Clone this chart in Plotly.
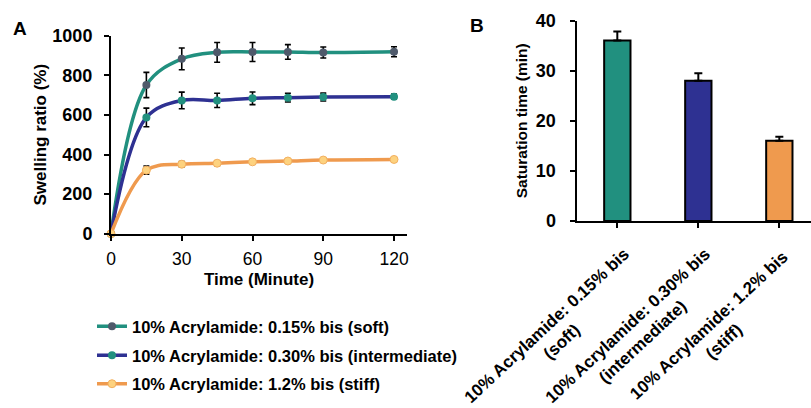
import plotly.graph_objects as go

# ---------------- data ----------------
time_min = [0, 15, 30, 45, 60, 75, 90, 120]

soft_vals = [0, 751, 883, 916, 918, 918, 915, 919]
soft_err = [0, 64, 55, 50, 48, 37, 28, 25]

inter_vals = [0, 587, 673, 673, 684, 687, 690, 692]
inter_err = [0, 47, 42, 36, 32, 22, 20, 13]

stiff_vals = [0, 321, 351, 356, 363, 367, 372, 375]
stiff_err = [0, 21, 14, 12, 10, 8, 6, 5]

series_names = [
    "10% Acrylamide: 0.15% bis (soft)",
    "10% Acrylamide: 0.30% bis (intermediate)",
    "10% Acrylamide: 1.2% bis (stiff)",
]

bar_labels = [
    "10% Acrylamide: 0.15% bis<br>(soft)",
    "10% Acrylamide: 0.30% bis<br>(intermediate)",
    "10% Acrylamide: 1.2% bis<br>(stiff)",
]
sat_time = [36, 28, 16]
sat_err = [1.8, 1.5, 0.8]

x_ticks = [0, 30, 60, 90, 120]
y_ticks_a = [0, 200, 400, 600, 800, 1000]
y_ticks_b = [0, 10, 20, 30, 40]

# ---------------- styles ----------------
TEAL = "#21907f"
NAVY = "#2e3192"
ORANGE = "#ef9a4e"
SLATE = "#4f5a6b"
LIGHT = "#fdd27f"
FONT = "Liberation Sans, Arial, sans-serif"

W, H = 811, 408

fig = go.Figure()

line_specs = [
    (soft_vals, soft_err, TEAL, dict(color=SLATE, size=8), "legend"),
    (inter_vals, inter_err, NAVY, dict(color=TEAL, size=8), "legend2"),
    (stiff_vals, stiff_err, ORANGE, dict(color=LIGHT, size=8, line=dict(color="#f3b060", width=1)), "legend3"),
]
for (vals, err, col, mk, lg), name in zip(line_specs, series_names):
    fig.add_trace(go.Scatter(
        x=time_min, y=vals, name=name,
        mode="lines+markers",
        line=dict(color=col, width=3.5, shape="spline", smoothing=1),
        marker=mk,
        error_y=dict(type="data", array=err, color="black", thickness=1.6, width=3),
        cliponaxis=False,
        xaxis="x", yaxis="y",
        legend=lg,
    ))

fig.add_trace(go.Bar(
    x=[0, 1, 2], y=sat_time,
    marker=dict(color=[TEAL, NAVY, ORANGE], line=dict(color="black", width=2)),
    width=0.325,
    error_y=dict(type="data", array=sat_err, arrayminus=[0, 0, 0], symmetric=False,
                 color="black", thickness=2, width=4),
    showlegend=False,
    xaxis="x2", yaxis="y2",
))

axis_common = dict(showline=True, linecolor="black", linewidth=2, ticks="outside",
                   tickcolor="black", tickwidth=2, ticklen=5, showgrid=False,
                   zeroline=False, automargin=False)

# category label annotations (centered multi-line, rotated)
annotations = []
for i, lab in enumerate(bar_labels):
    annotations.append(dict(
        x=i, xref="x2", y=(H - 333) / H, yref="paper",
        xshift=-63, text=lab, textangle=-43, showarrow=False,
        xanchor="center", yanchor="middle", align="center",
        font=dict(family=FONT, size=17, color="black", weight="bold"),
    ))
annotations.append(dict(x=20 / W, y=(H - 29) / H, xref="paper", yref="paper",
                        text="A", showarrow=False, xanchor="center", yanchor="middle",
                        font=dict(family=FONT, size=19, color="black", weight="bold")))
annotations.append(dict(x=477 / W, y=(H - 25) / H, xref="paper", yref="paper",
                        text="B", showarrow=False, xanchor="center", yanchor="middle",
                        font=dict(family=FONT, size=19, color="black", weight="bold")))

legend_common = dict(font=dict(family=FONT, size=16.5, color="black", weight="bold"),
                     bgcolor="rgba(0,0,0,0)", xanchor="left", yanchor="middle",
                     x=92 / W, borderwidth=0)

fig.update_layout(
    width=W, height=H,
    margin=dict(l=0, r=0, t=0, b=0, autoexpand=False),
    paper_bgcolor="white", plot_bgcolor="white",
    font=dict(family=FONT, color="black"),
    xaxis=dict(domain=[111 / W, 407 / W], range=[0, 125.5], tickvals=x_ticks,
               tickfont=dict(family=FONT, size=17.5),
               ticklabelstandoff=3,
               title=dict(text="Time (Minute)", standoff=5,
                          font=dict(family=FONT, size=17, weight="bold")),
               anchor="y", **axis_common),
    yaxis=dict(domain=[(H - 233.7) / H, (H - 35.7) / H], range=[0, 1000], tickvals=y_ticks_a,
               tickfont=dict(family=FONT, size=18, weight="bold"),
               ticklabelstandoff=8,
               title=dict(text="Swelling ratio (%)", standoff=1,
                          font=dict(family=FONT, size=17, weight="bold")),
               anchor="x", **axis_common),
    xaxis2=dict(domain=[576.5 / W, 1.0], range=[-0.504, 2.391], tickvals=[0, 1, 2],
                showticklabels=False, anchor="y2", **axis_common),
    yaxis2=dict(domain=[(H - 221) / H, (H - 20.5) / H], range=[0, 40], tickvals=y_ticks_b,
                tickfont=dict(family=FONT, size=18, weight="bold"),
                ticklabelstandoff=10,
                title=dict(text="Saturation time (min)", standoff=4,
                           font=dict(family=FONT, size=15.5, weight="bold")),
                anchor="x2", **axis_common),
    legend=dict(y=(H - 326.5) / H, **legend_common),
    legend2=dict(y=(H - 355.5) / H, **legend_common),
    legend3=dict(y=(H - 384) / H, **legend_common),
    annotations=annotations,
)

fig.write_html("out.html",
               config={"displayModeBar": False},
               post_script="document.body.style.margin='0';document.body.style.overflow='hidden';")
